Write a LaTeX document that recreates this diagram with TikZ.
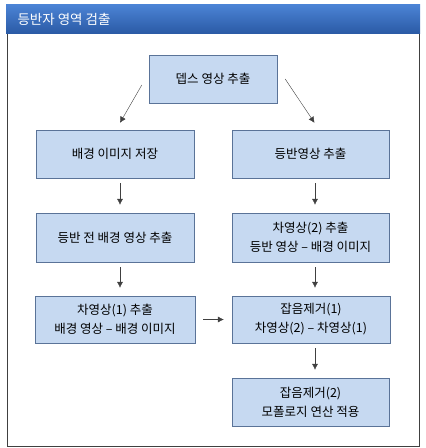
\documentclass[tikz,border=0pt]{standalone}
\usepackage{fontspec}
\setmainfont{Noto Sans CJK KR}
\usepackage{tikz}
\usetikzlibrary{arrows.meta}

\definecolor{boxfill}{HTML}{C6D9F1}
\definecolor{boxline}{HTML}{5A7398}
\definecolor{bartop}{HTML}{4C84D6}
\definecolor{barbot}{HTML}{2B5BA6}
\definecolor{arrowgray}{HTML}{404040}

\begin{document}
\begin{tikzpicture}[x=1pt,y=-1pt,
  stepbox/.style={draw=boxline, fill=boxfill, align=center, inner sep=0pt,
    minimum height=48pt, font=\fontsize{12.5}{19}\selectfont},
  flow/.style={draw=arrowgray, -{Latex[length=6pt,width=6pt]}}]
\useasboundingbox (0,0) rectangle (426,448);

% frame and title bar
\draw[black!75] (7,33) -- (7,446) -- (419,446) -- (419,33);
\shade[top color=bartop, bottom color=barbot] (6,4) rectangle (420,33);
\node[white, right, font=\fontsize{13.5}{15}\selectfont] (title) at (14,19) {등반자 영역 검출};

\node[stepbox, minimum width=128pt] (depth) at (213,79) {뎁스 영상 추출};

\node[stepbox, minimum width=158pt] (bgsave) at (115,154) {배경 이미지 저장};
\node[stepbox, minimum width=157pt] (climb) at (310.5,154) {등반영상 추출};

\node[stepbox, minimum width=158pt, minimum height=49pt] (prebg) at (115,237.5) {등반 전 배경 영상 추출};
\node[stepbox, minimum width=157pt, minimum height=49pt] (diff2) at (310.5,237.5) {차영상(2) 추출\\등반 영상 – 배경 이미지};

\node[stepbox, minimum width=160pt, minimum height=47pt] (diff1) at (115,319.5) {차영상(1) 추출\\배경 영상 – 배경 이미지};
\node[stepbox, minimum width=158pt, minimum height=47pt] (noise1) at (311,319.5) {잡음제거(1)\\차영상(2) – 차영상(1)};

\node[stepbox, minimum width=157pt] (noise2) at (310.5,402) {잡음제거(2)\\모폴로지 연산 적용};

% arrows (yshift is in canvas direction, so down is negative)
\draw[flow] ([xshift=-7,yshift=-6]depth.west) -- ([xshift=5,yshift=7]bgsave.north);
\draw[flow] ([xshift=8]depth.east) -- ([xshift=4,yshift=7]climb.north);
\draw[flow, shorten <=5pt, shorten >=8pt] ([xshift=5]bgsave.south) -- ([xshift=5]prebg.north);
\draw[flow, shorten <=5pt, shorten >=8pt] ([xshift=5]prebg.south) -- ([xshift=5]diff1.north);
\draw[flow, shorten <=5pt, shorten >=8pt] ([xshift=4.5]climb.south) -- ([xshift=4.5]diff2.north);
\draw[flow, shorten <=5pt, shorten >=8pt] ([xshift=4.5]diff2.south) -- ([xshift=4]noise1.north);
\draw[flow, shorten <=5pt, shorten >=8pt] ([xshift=4]noise1.south) -- ([xshift=4.5]noise2.north);
\draw[flow, shorten <=8pt, shorten >=8pt] (diff1.east) -- (noise1.west);

\end{tikzpicture}
\end{document}
